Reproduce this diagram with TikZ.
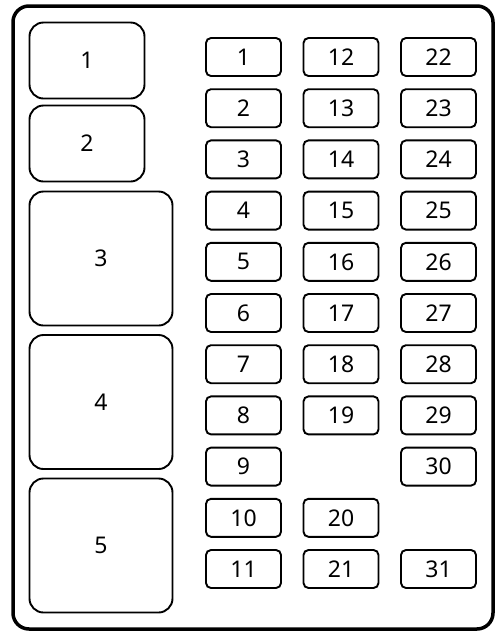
\documentclass[tikz,border=0pt]{standalone}
\usepackage{fontspec}
\setmainfont{Noto Sans}
\begin{document}
\begin{tikzpicture}[x=1pt,y=-1pt,
  fuse/.style={draw=black,line width=1.9pt,rounded corners=5pt,minimum width=75pt,minimum height=38pt,inner sep=0pt,font=\fontsize{23}{26}\selectfont},
  relay/.style={draw=black,line width=1.9pt,rounded corners=14pt,inner sep=0pt,font=\fontsize{23}{26}\selectfont}]
\useasboundingbox (0,0) rectangle (500,633);
\draw[line width=3.5pt,rounded corners=16pt] (13,6) rectangle (493,629);
% relays
\node[relay,minimum width=115pt,minimum height=76pt] (r1) at (87,60.5) {1};
\node[relay,minimum width=115pt,minimum height=76pt] (r2) at (87,143.5) {2};
\node[relay,minimum width=143pt,minimum height=134pt] (r3) at (101,258.5) {3};
\node[relay,minimum width=143pt,minimum height=134pt] (r4) at (101,402) {4};
\node[relay,minimum width=143pt,minimum height=134pt] (r5) at (101,545.5) {5};
% fuses
\foreach \n/\c/\r in {1/0/0,2/0/1,3/0/2,4/0/3,5/0/4,6/0/5,7/0/6,8/0/7,9/0/8,10/0/9,11/0/10,
  12/1/0,13/1/1,14/1/2,15/1/3,16/1/4,17/1/5,18/1/6,19/1/7,20/1/9,21/1/10,
  22/2/0,23/2/1,24/2/2,25/2/3,26/2/4,27/2/5,28/2/6,29/2/7,30/2/8,31/2/10}
  \node[fuse] (f\n) at ({243.5+\c*97.5},{57+\r*51.2}) {\n};
\end{tikzpicture}
\end{document}
